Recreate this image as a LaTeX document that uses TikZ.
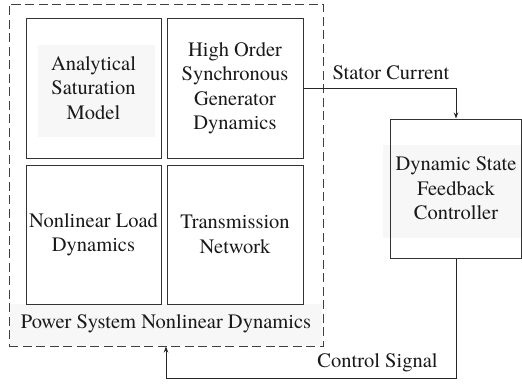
\documentclass[tikz,border=0pt]{standalone}
\usepackage{fontspec}
\setmainfont{TeX Gyre Termes}
\usetikzlibrary{arrows.meta}
\begin{document}
\begin{tikzpicture}[x=1pt,y=-1pt,
  every node/.style={font=\rmfamily\fontsize{20.5}{24.5}\selectfont, text=black!90},
  blk/.style={draw=black!80, line width=1pt, rectangle, align=center, inner sep=0pt},
  shadebox/.style={rectangle, fill=black!3, draw=none, inner sep=0pt},
  outerbox/.style={draw=black!75, line width=1pt, dash pattern=on 9pt off 4.5pt, rectangle, inner sep=0pt},
  arr/.style={draw=black!85, line width=1pt, -{Stealth[length=6pt,width=4.5pt]}},
  lbl/.style={inner sep=0pt}]
\useasboundingbox (0,0) rectangle (522,383);
% light backgrounds behind texts
\node[shadebox, minimum width=312pt, minimum height=42pt] (bandfill) at (166,325) {};
\node[shadebox, minimum width=117pt, minimum height=92pt] (asmfill) at (96.5,91) {};
\node[shadebox, minimum width=139pt, minimum height=93pt] (ctrlfill) at (452.5,191.5) {};
% outer dashed frame
\node[outerbox, minimum width=314pt, minimum height=342pt] (psys) at (166,175) {};
% blocks
\node[blk, minimum width=135pt, minimum height=140pt] (asm) at (93.5,88) {Analytical\\Saturation\\Model};
\node[blk, minimum width=136pt, minimum height=140pt] (gen) at (235,88) {High Order\\Synchronous\\Generator\\Dynamics};
\node[blk, minimum width=135pt, minimum height=139pt] (load) at (93.5,234.5) {Nonlinear Load\\Dynamics};
\node[blk, minimum width=136pt, minimum height=139pt] (net) at (235,234.5) {Transmission\\Network};
\node[blk, minimum width=131pt, minimum height=139pt] (ctrl) at (456,188.5) {Dynamic State\\Feedback\\Controller};
% labels
\node[lbl] (plabel) at (166,324) {Power System Nonlinear Dynamics};
\node[lbl] (slabel) at (391,73) {Stator Current};
\node[lbl] (clabel) at (377.5,363) {Control Signal};
% connectors
\coordinate (cturn) at (456,378);
\draw[arr] (gen.east) -| (ctrl.north);
\draw[arr] (ctrl.south) -- (cturn) -| (psys.south);
\end{tikzpicture}
\end{document}
